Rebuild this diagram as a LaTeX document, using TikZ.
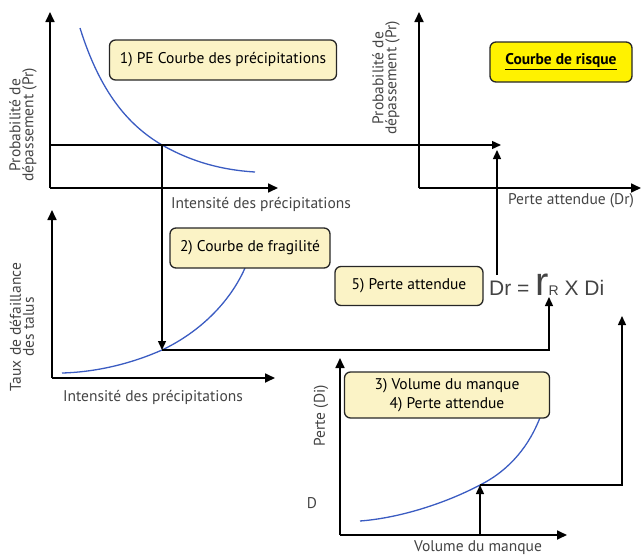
\documentclass[tikz,border=0pt]{standalone}
\usepackage{fontspec}
\setmainfont{PT Sans}
\newfontfamily\formulafont{Liberation Sans}
\usetikzlibrary{arrows.meta}
\definecolor{boxyellow}{HTML}{FBF3C6}
\definecolor{riskyellow}{HTML}{FFF200}
\definecolor{curveblue}{HTML}{3B5CC2}
\definecolor{labelgray}{HTML}{444444}

\begin{document}
\begin{tikzpicture}[x=1pt,y=-1pt,
		axis/.style={line width=1.7pt,-{Triangle[length=10pt,width=9pt]}},
		guide/.style={line width=1.4pt},
		guidearrow/.style={guide,-{Triangle[length=9pt,width=8pt]}},
		curve/.style={line width=1.3pt,curveblue},
		axislabel/.style={font=\fontsize{15.5}{13}\selectfont,text=labelgray,align=center},
		stepbox/.style={draw=black!85,line width=1.3pt,fill=boxyellow,rounded corners=6pt,
				font=\fontsize{15.5}{19}\selectfont,align=center,inner sep=0pt}
	]
	\useasboundingbox (0,0) rectangle (643,557);

	% axes
	\coordinate (o1) at (50,188);
	\coordinate (y1) at (50,12);
	\coordinate (x1) at (278,188);
	\coordinate (o2) at (419,188);
	\coordinate (y2) at (419,12);
	\coordinate (x2) at (641,188);
	\coordinate (o3) at (52,378);
	\coordinate (y3) at (52,210);
	\coordinate (x3) at (275,378);
	\coordinate (o4) at (340,535);
	\coordinate (y4) at (340,358);
	\coordinate (x4) at (567,535);
	\draw[axis] (o1) -- (y1);
	\draw[axis] (o1) -- (x1);
	\draw[axis] (o2) -- (y2);
	\draw[axis] (o2) -- (x2);
	\draw[axis] (o3) -- (y3);
	\draw[axis] (o3) -- (x3);
	\draw[axis] (o4) -- (y4);
	\draw[axis] (o4) -- (x4);

	% curves
	\coordinate (p1) at (162,145);
	\coordinate (p2) at (162,350);
	\coordinate (p3) at (480,485);
	\draw[curve] (80,28) .. controls (100,92) and (128,125) .. (p1)
		.. controls (192,162) and (222,170) .. (255,172);
	\draw[curve] (62,373) .. controls (100,372) and (135,362) .. (p2)
		.. controls (200,332) and (230,302) .. (245,268);
	\draw[curve] (360,521) .. controls (400,518) and (446,503) .. (p3)
		.. controls (510,470) and (530,445) .. (541,415);

	% guides
	\coordinate (prstart) at (50,145);
	\coordinate (prend) at (501,145);
	\coordinate (rtip) at (549,297);
	\coordinate (dibase) at (480,535);
	\coordinate (ditip) at (622,316);
	\coordinate (drbase) at (497,275);
	\coordinate (drtip) at (497,150);
	\draw[guidearrow] (prstart) -- (prend);
	\draw[guidearrow] (p1) -- (p2);
	\draw[guidearrow] (p2) -| (rtip);
	\draw[guidearrow] (dibase) -- (p3);
	\draw[guidearrow] (p3) -| (ditip);
	\draw[guidearrow] (drbase) -- (drtip);

	% boxes
	\node[stepbox,minimum width=227pt,minimum height=40pt] (pe) at (223,60) {1) PE Courbe des précipitations};
	\node[stepbox,fill=riskyellow,minimum width=142pt,minimum height=40pt] (risque) at (561,62)
		{\underline{\textbf{Courbe de risque}}};
	\node[stepbox,minimum width=160pt,minimum height=40pt] (fragilite) at (250,248) {2) Courbe de fragilité};
	\node[stepbox,minimum width=148pt,minimum height=39pt] (perte) at (409,286) {5) Perte attendue};
	\node[stepbox,minimum width=205pt,minimum height=46pt] (volume) at (447,395)
		{3) Volume du manque\\4) Perte attendue};

	% formule
	\node[anchor=base west,inner sep=0pt,text=labelgray] (formule) at (489,295)
		{\formulafont\fontsize{21}{21}\selectfont Dr = {\fontsize{40}{40}\selectfont r}{\fontsize{14}{14}\selectfont R} X Di};

	% axis labels
	\node[axislabel] (xl1) at (261,204) {Intensité des précipitations};
	\node[axislabel,rotate=90] (yl1) at (23,125) {Probabilité de\\dépassement (Pr)};
	\node[axislabel] (xl2) at (571,201) {Perte attendue (Dr)};
	\node[axislabel,rotate=90] (yl2) at (386,78) {Probabilité de\\dépassement (Pr)};
	\node[axislabel] (xl3) at (153,397) {Intensité des précipitations};
	\node[axislabel,rotate=90] (yl3) at (22,327) {Taux de défaillance\\des talus};
	\node[axislabel,rotate=90] (yl4) at (321,416) {Perte (Di)};
	\node[axislabel] (xl4) at (478,548) {Volume du manque};
	\node[axislabel] (dlabel) at (312,503) {D};
\end{tikzpicture}
\end{document}
